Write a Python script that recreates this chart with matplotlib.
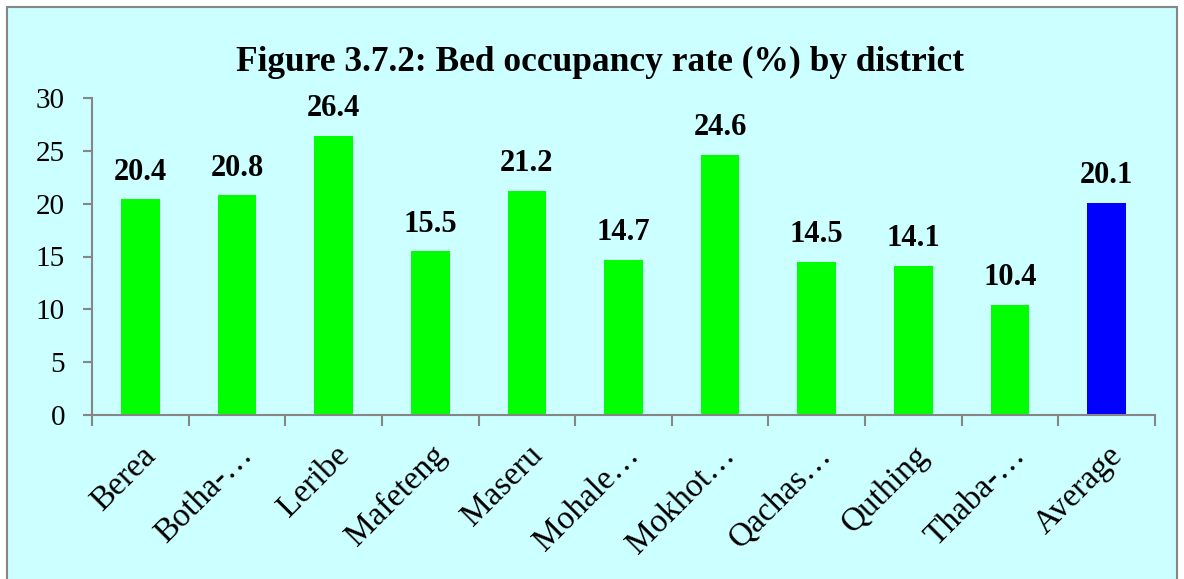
import numpy as np
import matplotlib.pyplot as plt
from matplotlib.patches import Rectangle

# data
districts = ['Berea', 'Botha-…', 'Leribe', 'Mafeteng', 'Maseru', 'Mohale…',
             'Mokhot…', 'Qachas…', 'Quthing', 'Thaba-…', 'Average']
rates = [20.4, 20.8, 26.4, 15.5, 21.2, 14.7, 24.6, 14.5, 14.1, 10.4, 20.1]
bar_colors = ['#00FF00'] * 10 + ['#0000FF']

plt.rcParams['font.family'] = ['Liberation Serif', 'DejaVu Serif']

fig = plt.figure(figsize=(11.84, 5.79), dpi=100)
fig.patch.set_facecolor('white')
fig.patches.append(Rectangle((7 / 1184, -0.01), 1170 / 1184, 1 - 7 / 579 + 0.01,
                             transform=fig.transFigure, facecolor='#CCFFFF',
                             edgecolor='#868686', linewidth=1.5, zorder=-10))

ax = fig.add_axes([92 / 1184, 1 - 415 / 579, (1155 - 92) / 1184, (415 - 98) / 579])
ax.set_facecolor('none')
ax.set_zorder(5)

x = np.arange(len(districts))
bars = ax.bar(x, rates, width=0.4, color=bar_colors)

for xi, v in zip(x, rates):
    ax.text(xi, v + 1.2, f'{v:.1f}', ha='center', va='bottom',
            fontsize=22, fontweight='bold')

ax.set_xlim(-0.5, len(districts) - 0.5)
ax.set_ylim(0, 30)
ax.set_yticks(range(0, 31, 5))
ax.tick_params(axis='y', labelsize=21, length=6.5, color='#868686', width=1.5, pad=13)

ax.set_xticks(x)
ax.set_xticklabels(districts, rotation=45, ha='right', rotation_mode='anchor',
                   fontsize=24)
ax.tick_params(axis='x', which='major', length=0, pad=18)
ax.set_xticks(np.arange(-0.5, len(districts), 1), minor=True)
ax.tick_params(axis='x', which='minor', length=8, color='#868686', width=1.5)

for s in ['top', 'right']:
    ax.spines[s].set_visible(False)
for s in ['left', 'bottom']:
    ax.spines[s].set_color('#868686')
    ax.spines[s].set_linewidth(1.5)

fig.text(600 / 1184, 1 - 62 / 579, 'Figure 3.7.2: Bed occupancy rate (%) by district',
         ha='center', va='center', fontsize=25.5, fontweight='bold')

fig.savefig('out.png', dpi=100)
